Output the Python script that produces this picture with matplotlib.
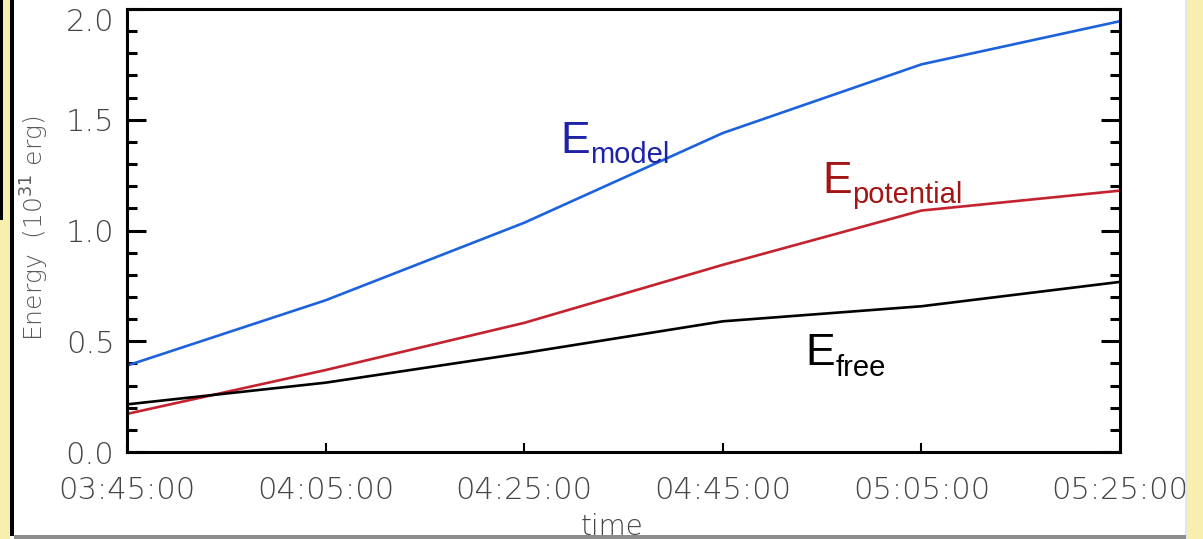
import matplotlib
matplotlib.use("Agg")
import matplotlib.pyplot as plt
import matplotlib.dates as mdates
from matplotlib.patches import Rectangle
from matplotlib.ticker import MultipleLocator
import pandas as pd

# energy budget, in units of 1e31 erg
times = ["03:45", "04:05", "04:25", "04:45", "05:05", "05:25"]
e_model = [0.39, 0.685, 1.035, 1.44, 1.75, 1.945]
e_potential = [0.172, 0.37, 0.583, 0.845, 1.09, 1.18]
e_free = [0.215, 0.313, 0.447, 0.59, 0.658, 0.768]
y_max = 2.0

# label anchors: (time, energy) for the big "E"
lab_model = ("04:28:36", 1.351)
lab_potential = ("04:55:00", 1.171)
lab_free = ("04:53:17", 0.392)

day = "2011-02-15 "
t = pd.to_datetime([day + s for s in times])

fig = plt.figure(figsize=(12.03, 5.39), dpi=100)
fig.patch.set_facecolor("white")

# slide edges around the figure
W, H = 1203, 539
def strip(x, y, w, h, c, z=5):
    fig.add_artist(Rectangle((x / W, 1 - (y + h) / H), w / W, h / H,
                             transform=fig.transFigure, color=c, lw=0, zorder=z))

strip(0, 0, 10, 539, "#f8eeae")
strip(10, 0, 4, 536, "black")
strip(0, 0, 2.5, 220, "black")
strip(1186, 0, 17, 539, "#f8eeae")
strip(1185, 0, 1.5, 539, "#dde6ea")
strip(14, 535, 1172, 4, "#8c8c8c")

ax = fig.add_axes([127 / W, 1 - 452 / H, 993 / W, 443 / H])
ax.plot(t, e_model, color="#1c62dc", lw=1.9)
ax.plot(t, e_potential, color="#c3222e", lw=1.9)
ax.plot(t, e_free, color="black", lw=1.9)

ax.set_xlim(t[0], t[-1])
ax.set_ylim(0, y_max)
ax.xaxis.set_major_locator(mdates.MinuteLocator(byminute=[5, 25, 45]))
ax.xaxis.set_major_formatter(mdates.DateFormatter("%H:%M:%S"))
ax.yaxis.set_major_locator(MultipleLocator(0.5))
ax.yaxis.set_minor_locator(MultipleLocator(0.1))
# top label is drawn separately so it hangs below the frame edge
ax.yaxis.set_major_formatter(lambda v, p: "" if v >= y_max - 1e-9 else f"{v:.1f}")

for s in ax.spines.values():
    s.set_linewidth(2.2)
ax.tick_params(axis="y", which="major", direction="in", length=14, width=2.2, right=True, pad=9)
ax.tick_params(axis="y", which="minor", direction="in", length=7, width=2.2, right=True)
ax.tick_params(axis="x", which="major", direction="in", length=6.5, width=1.5, top=False, pad=17)
ax.tick_params(labelsize=22, labelcolor="#454545")

tick_fam = "DejaVu Sans"
fig.canvas.draw()
for lab in ax.get_xticklabels() + ax.get_yticklabels():
    lab.set_fontfamily(tick_fam)
    lab.set_fontweight("light")

ax.annotate(f"{y_max:.1f}", (0, y_max), xycoords=("axes fraction", "data"),
            xytext=(-9, 1), textcoords="offset points", ha="right", va="top",
            fontsize=22, color="#454545", fontfamily=tick_fam, fontweight="light")

fig.text(35 / W, 1 - 228 / H, r"Energy  (10$^{31}$ erg)", rotation=90,
         ha="center", va="center", fontfamily=tick_fam, fontweight="light",
         fontsize=18, color="#5a5a5a")
fig.text(612 / W, 1 - 527 / H, "time", ha="center", va="center",
         fontfamily=tick_fam, fontweight="light", fontsize=20, color="#454545")

def energy_label(pos, sub, color):
    xy = (pd.Timestamp(day + pos[0]), pos[1])
    ax.text(xy[0], xy[1], "E", color=color, fontsize=32,
            fontfamily="Liberation Sans", va="baseline")
    ax.annotate(sub, xy, xytext=(21.8, -7.5), textcoords="offset points",
                color=color, fontsize=21, fontfamily="Liberation Sans", va="baseline")

energy_label(lab_model, "model", "#1d22a8")
energy_label(lab_potential, "potential", "#a31414")
energy_label(lab_free, "free", "black")

fig.savefig("out.png", dpi=100)
